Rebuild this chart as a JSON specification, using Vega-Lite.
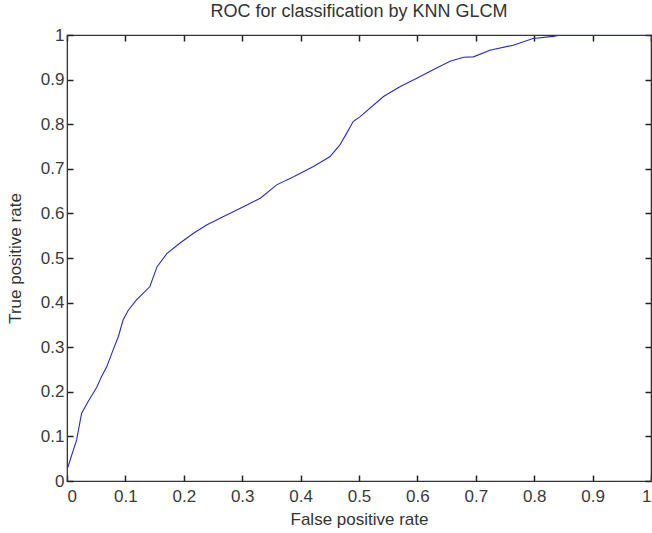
{
  "$schema": "https://vega.github.io/schema/vega-lite/v6.json",
  "width": 584,
  "height": 446,
  "autosize": {"type": "none"},
  "padding": {"left": 67, "top": 35, "right": 1, "bottom": 52},
  "background": "white",
  "title": {"text": "ROC for classification by KNN GLCM", "fontSize": 18, "fontWeight": "normal", "font": "Liberation Sans, Arial", "color": "#333", "offset": 5},
  "config": {
    "view": {"stroke": "#333", "strokeWidth": 1.2},
    "axis": {"grid": false, "domainColor": "#333", "tickColor": "#222", "labelFont": "Liberation Sans, Arial", "titleFont": "Liberation Sans, Arial", "labelFontSize": 17, "titleFontSize": 17, "titleFontWeight": "normal", "labelColor": "#3a3a3a", "titleColor": "#333", "tickSize": -6, "tickWidth": 1.5}
  },
  "data": {"values": [
    {"fpr": 0.0, "tpr": 0.0},
    {"fpr": 0.0, "tpr": 0.025},
    {"fpr": 0.0165, "tpr": 0.092},
    {"fpr": 0.025, "tpr": 0.152},
    {"fpr": 0.037, "tpr": 0.18},
    {"fpr": 0.051, "tpr": 0.21},
    {"fpr": 0.059, "tpr": 0.234},
    {"fpr": 0.068, "tpr": 0.256},
    {"fpr": 0.079, "tpr": 0.294},
    {"fpr": 0.088, "tpr": 0.324},
    {"fpr": 0.096, "tpr": 0.361},
    {"fpr": 0.105, "tpr": 0.383},
    {"fpr": 0.119, "tpr": 0.406},
    {"fpr": 0.142, "tpr": 0.436},
    {"fpr": 0.154, "tpr": 0.48},
    {"fpr": 0.171, "tpr": 0.51},
    {"fpr": 0.193, "tpr": 0.533},
    {"fpr": 0.216, "tpr": 0.555},
    {"fpr": 0.239, "tpr": 0.574},
    {"fpr": 0.262, "tpr": 0.589},
    {"fpr": 0.302, "tpr": 0.615},
    {"fpr": 0.331, "tpr": 0.634},
    {"fpr": 0.359, "tpr": 0.664},
    {"fpr": 0.388, "tpr": 0.682},
    {"fpr": 0.422, "tpr": 0.705},
    {"fpr": 0.45, "tpr": 0.727},
    {"fpr": 0.467, "tpr": 0.753},
    {"fpr": 0.479, "tpr": 0.78},
    {"fpr": 0.49, "tpr": 0.806},
    {"fpr": 0.502, "tpr": 0.817},
    {"fpr": 0.542, "tpr": 0.862},
    {"fpr": 0.57, "tpr": 0.884},
    {"fpr": 0.599, "tpr": 0.903},
    {"fpr": 0.627, "tpr": 0.922},
    {"fpr": 0.656, "tpr": 0.941},
    {"fpr": 0.679, "tpr": 0.95},
    {"fpr": 0.696, "tpr": 0.951},
    {"fpr": 0.724, "tpr": 0.966},
    {"fpr": 0.764, "tpr": 0.977},
    {"fpr": 0.798, "tpr": 0.992},
    {"fpr": 0.833, "tpr": 0.997},
    {"fpr": 0.845, "tpr": 1.0},
    {"fpr": 1.0, "tpr": 1.0}
  ]},
  "layer": [
    {
      "mark": {"type": "line", "color": "#2a2ab8", "strokeWidth": 1.1, "clip": true},
      "encoding": {
        "x": {"field": "fpr", "type": "quantitative", "scale": {"domain": [0, 1], "nice": false}, "axis": {"orient": "bottom", "title": "False positive rate", "values": [0, 0.1, 0.2, 0.3, 0.4, 0.5, 0.6, 0.7, 0.8, 0.9, 1], "labelExpr": "'' + datum.value", "labelPadding": 13, "titleY": 30}},
        "y": {"field": "tpr", "type": "quantitative", "scale": {"domain": [0, 1], "nice": false}, "axis": {"orient": "left", "title": "True positive rate", "values": [0, 0.1, 0.2, 0.3, 0.4, 0.5, 0.6, 0.7, 0.8, 0.9, 1], "labelExpr": "'' + datum.value", "labelPadding": 9, "titleX": -43}}
      }
    },
    {
      "mark": {"type": "point", "opacity": 0},
      "encoding": {
        "x": {"field": "fpr", "type": "quantitative", "axis": {"orient": "top", "title": null, "labels": false, "values": [0, 0.1, 0.2, 0.3, 0.4, 0.5, 0.6, 0.7, 0.8, 0.9, 1]}},
        "y": {"field": "tpr", "type": "quantitative", "axis": {"orient": "right", "title": null, "labels": false, "values": [0, 0.1, 0.2, 0.3, 0.4, 0.5, 0.6, 0.7, 0.8, 0.9, 1]}}
      }
    }
  ],
  "resolve": {"axis": {"x": "independent", "y": "independent"}}
}
